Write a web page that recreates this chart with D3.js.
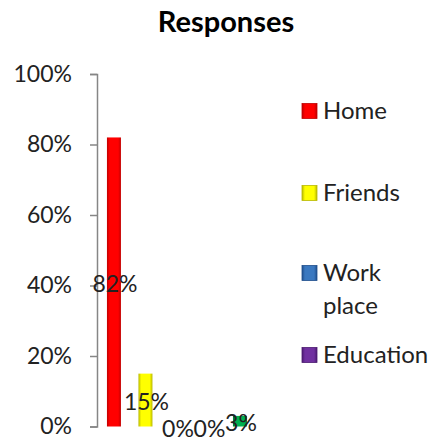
<!DOCTYPE html>
<html><head><meta charset="utf-8">
<script src="https://cdn.jsdelivr.net/npm/d3@7"></script>
<style>html,body{margin:0;padding:0;background:#fff;}svg{display:block;}</style>
</head><body>
<svg id="chart" width="434" height="444"></svg>
<script>
const title = "Responses";
const seriesNames = ["Home", "Friends", "Work place", "Education", "Other"];
const seriesValues = [0.82, 0.15, 0.00, 0.00, 0.03];
const seriesColors = ["#ff0000", "#ffff00", "#3a78c0", "#7030a0", "#00b050"];
const seriesDark = ["#c00000", "#b8b800", "#1f4e8c", "#4b1a70", "#007a36"];
const yTicks = [0, 0.2, 0.4, 0.6, 0.8, 1.0];
const legendShown = 4; // fifth entry is cut off in the original

const svg = d3.select("#chart");
const font = "Lato, 'Open Sans', sans-serif";

const y = d3.scaleLinear().domain([0, 1]).range([426.5, 74]);
const x = d3.scaleBand().domain(seriesNames).range([97.5, 256.4]).paddingInner(0.556).paddingOuter(0.3);

// gradients
const defs = svg.append("defs");
seriesNames.forEach((s, i) => {
  const g = defs.append("linearGradient").attr("id", "g" + i).attr("x1", "0").attr("x2", "1").attr("y1", "0").attr("y2", "0");
  g.append("stop").attr("offset", "0").attr("stop-color", seriesDark[i]);
  g.append("stop").attr("offset", "0.2").attr("stop-color", seriesColors[i]);
  g.append("stop").attr("offset", "0.8").attr("stop-color", seriesColors[i]);
  g.append("stop").attr("offset", "1").attr("stop-color", seriesDark[i]);
});

// title
svg.append("text").attr("x", 226).attr("y", 32).attr("text-anchor", "middle")
  .attr("font-family", font).attr("font-weight", "bold").attr("font-size", 29).attr("fill", "#000")
  .text(title);

// y axis
const yAxis = d3.axisLeft(y).tickValues(yTicks).tickFormat(d3.format(".0%")).tickSize(7).tickPadding(18);
const ga = svg.append("g").attr("transform", "translate(97,0)").call(yAxis);
ga.select(".domain").attr("stroke", "#868686").attr("stroke-width", 1.5);
ga.selectAll(".tick line").attr("stroke", "#868686").attr("stroke-width", 1.5);
ga.selectAll(".tick text").attr("font-family", font).attr("font-size", 23).attr("fill", "#222");

// bars
svg.selectAll("rect.bar").data(seriesNames).enter().append("rect").attr("class", "bar")
  .attr("x", d => x(d)).attr("width", x.bandwidth())
  .attr("y", (d, i) => y(seriesValues[i]))
  .attr("height", (d, i) => y(0) - y(seriesValues[i]))
  .attr("fill", (d, i) => "url(#g" + i + ")");

// data labels
svg.selectAll("text.lbl").data(seriesNames).enter().append("text").attr("class", "lbl")
  .attr("x", d => x(d) + x.bandwidth() / 2 + 1)
  .attr("y", (d, i) => (y(seriesValues[i]) + y(0)) / 2 + 2)
  .attr("dy", "0.35em").attr("text-anchor", "middle")
  .attr("font-family", font).attr("font-size", 23).attr("fill", "#222")
  .text((d, i) => d3.format(".0%")(seriesValues[i]));

// legend
const legendY = [111, 193, 273, 355];
const lg = svg.append("g");
seriesNames.slice(0, legendShown).forEach((s, i) => {
  const g = lg.append("g").attr("transform", `translate(302,${legendY[i]})`);
  g.append("rect").attr("x", 0).attr("y", -7.5).attr("width", 15).attr("height", 15)
    .attr("fill", "url(#g" + i + ")").attr("stroke", seriesDark[i]).attr("stroke-width", 0.8);
  const words = s.split(" ");
  const t = g.append("text").attr("x", 21).attr("y", 0)
    .attr("font-family", font).attr("font-size", 24).attr("fill", "#222");
  words.forEach((w, k) => t.append("tspan").attr("x", 21).attr("dy", k === 0 ? "0.35em" : 33).text(w));
});
</script>
</body></html>
